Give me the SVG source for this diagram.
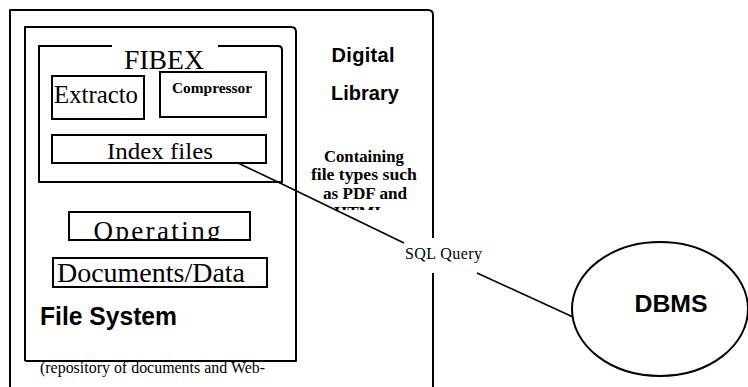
<svg xmlns="http://www.w3.org/2000/svg" width="748" height="387" viewBox="0 0 748 387">
<style>
.ln{fill:none;stroke:#000;stroke-width:2;stroke-linejoin:round}
.bx{fill:#fff;stroke:#000;stroke-width:2}
.serif{font-family:"Liberation Serif","Times New Roman",serif;fill:#000}
.sans{font-family:"Liberation Sans",Arial,sans-serif;font-weight:bold;fill:#000}
.conn{fill:none;stroke:#000;stroke-width:1.6}
</style>
<defs>
<clipPath id="clipOp"><rect x="69" y="211" width="182" height="29"/></clipPath>
<clipPath id="clipHtml"><rect x="300" y="200" width="130" height="10"/></clipPath>
</defs>
<rect width="748" height="387" fill="#fff"/>
<g id="digital-library">
<path class="ln" d="M10 387 V10 H428 Q433 10 433 15 V238 M433 273 V387"/>
<text class="sans" x="363" y="62" font-size="20" text-anchor="middle" textLength="63" lengthAdjust="spacing">Digital</text>
<text class="sans" x="365" y="100" font-size="20" text-anchor="middle">Library</text>
<text class="serif" font-weight="bold" font-size="17" text-anchor="middle">
<tspan x="366" y="162" textLength="80" lengthAdjust="spacingAndGlyphs">Containing</tspan>
<tspan x="366" y="180" textLength="106" lengthAdjust="spacingAndGlyphs">file types such</tspan>
<tspan x="365" y="199" textLength="84" lengthAdjust="spacingAndGlyphs">as PDF and</tspan>
</text>
<text class="serif" font-weight="bold" font-size="17" x="360" y="218" text-anchor="middle" clip-path="url(#clipHtml)">HTML</text>
</g>
<g id="file-system">
<path class="ln" d="M25 361 V27 H291 Q296 27 296 32 V361 H25"/>
<text class="sans" x="40" y="325" font-size="25" textLength="137" lengthAdjust="spacingAndGlyphs">File System</text>
<text class="serif" x="40" y="373" font-size="16" textLength="225" lengthAdjust="spacingAndGlyphs">(repository of documents and Web-</text>
</g>
<g id="fibex">
<path class="ln" d="M112 46 H39 V182 H282 V50 Q282 46 278 46 H218"/>
<text class="serif" x="164" y="69" font-size="27" text-anchor="middle" textLength="80" lengthAdjust="spacingAndGlyphs">FIBEX</text>
</g>
<g id="extractor">
<rect class="bx" x="52" y="76" width="92" height="43"/>
<text class="serif" x="54" y="103" font-size="25" textLength="84" lengthAdjust="spacingAndGlyphs">Extracto</text>
</g>
<g id="compressor">
<rect class="bx" x="160" y="72" width="106" height="45"/>
<text class="serif" x="212" y="93" font-size="15" font-weight="bold" text-anchor="middle" textLength="80" lengthAdjust="spacingAndGlyphs">Compressor</text>
</g>
<g id="index-files">
<rect class="bx" x="52" y="135" width="214" height="28"/>
<text class="serif" x="160" y="159" font-size="24" text-anchor="middle" textLength="106" lengthAdjust="spacingAndGlyphs">Index files</text>
</g>
<g id="operating">
<rect class="bx" x="69" y="212" width="181" height="28"/>
<text class="serif" x="157" y="240" font-size="27" text-anchor="middle" textLength="127" lengthAdjust="spacing" clip-path="url(#clipOp)">Operating</text>
</g>
<g id="documents-data">
<rect class="bx" x="53" y="258" width="214" height="29"/>
<text class="serif" x="151" y="282" font-size="28" text-anchor="middle" textLength="188" lengthAdjust="spacingAndGlyphs">Documents/Data</text>
</g>
<g id="dbms">
<ellipse class="ln" cx="660" cy="309" rx="88" ry="67"/>
<text class="sans" x="671" y="312" font-size="24" text-anchor="middle" textLength="73" lengthAdjust="spacingAndGlyphs">DBMS</text>
</g>
<g id="connectors">
<polyline class="conn" points="238,163 280,183 404,243"/>
<line class="conn" x1="477" y1="273" x2="573" y2="317"/>
<text class="serif" x="405" y="259" font-size="16" textLength="77" lengthAdjust="spacing">SQL Query</text>
</g>
</svg>
